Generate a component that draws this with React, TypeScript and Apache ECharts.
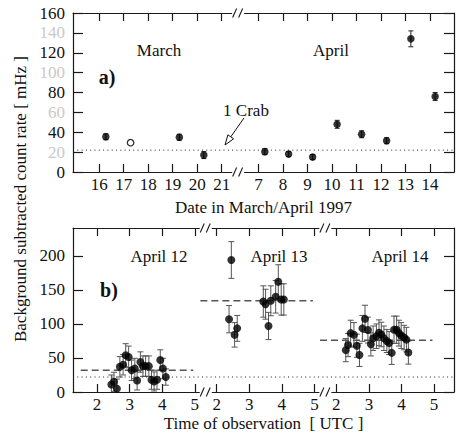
import React, { useEffect, useRef } from 'react';
import * as echarts from 'echarts';

const FONT = 'Liberation Serif';
const INK = '#111111';

// ---------- panel a) daily averages, March / April 1997 ----------
const marchTickDays = [16, 17, 18, 19, 20, 21];
const aprilTickDays = [7, 8, 9, 10, 11, 12, 13, 14];
const marchDay = [16.27, 19.27, 20.27];
const marchRate = [35.5, 35, 17];
const marchErr = [3, 3, 3.5];
const marchOpenDay = [17.28];
const marchOpenRate = [29.5];
const aprilDay = [7.26, 8.23, 9.21, 10.21, 11.21, 12.23, 13.22, 14.21];
const aprilRate = [20.5, 18, 15, 48, 38, 31.5, 134, 76];
const aprilErr = [3, 2.5, 2.5, 4, 3.5, 3, 8, 4];
const crabRate = 22;
const rateTicksA = [0, 20, 40, 60, 80, 100, 120, 140, 160];
const greyRateLabels = [20, 60, 100, 140];

// ---------- panel b) individual observations, April 12/13/14 ----------
const hourTicks = [2, 3, 4, 5];
const rateTicksB = [0, 50, 100, 150, 200];
const apr12Hour = [2.44, 2.52, 2.61, 2.70, 2.80, 2.88, 2.97, 3.06, 3.16, 3.23, 3.33, 3.41, 3.49, 3.59, 3.67, 3.75, 3.84, 3.94, 4.02, 4.11];
const apr12Rate = [11, 15, 5, 37, 40, 54, 51.5, 32, 34.5, 17, 44, 38, 38, 38, 18, 15.5, 18, 47, 34.5, 22];
const apr12Err = [14, 14, 14, 15, 15, 17, 16, 15, 15, 14, 15, 15, 15, 15, 14, 14, 14, 15, 15, 12];
const apr13Hour = [2.38, 2.45, 2.55, 2.63, 3.43, 3.50, 3.59, 3.66, 3.81, 3.89, 3.98, 4.06];
const apr13Rate = [107, 194, 84, 93.5, 133, 129, 97, 134, 140, 162, 136, 136];
const apr13Err = [20, 27, 18, 19, 23, 22, 20, 22, 24, 25, 23, 23];
const apr14Hour = [2.29, 2.36, 2.44, 2.54, 2.63, 2.71, 2.80, 2.88, 2.97, 3.06, 3.13, 3.23, 3.31, 3.38, 3.46, 3.55, 3.62, 3.70, 3.77, 3.85, 3.92, 3.99, 4.08, 4.15, 4.21];
const apr14Rate = [61.5, 69, 86.5, 84, 68, 54.5, 93.5, 107.5, 91, 70, 79, 82, 87, 84.5, 79, 75, 72, 57.5, 91.5, 91.5, 86.5, 83, 80, 77, 58];
const apr14Err = [17, 17, 19, 18, 17, 17, 19, 20, 19, 17, 18, 18, 19, 18, 18, 17, 17, 17, 20, 20, 19, 19, 18, 18, 17];
const dayMeans = [32, 134, 76];
const meanSpanHours = [1.5, 4.95];

// ---------- axis layout (broken axes mapped onto one continuous axis) ----------
const A_MIN = -1.07;
const A_MAX = 14.48;
const posMarch = (d: number) => d - 16;
const posApril = (d: number) => d - 0.5;
const A_BREAK = 5.67;
const B_MIN = 1.263;
const B_MAX = 12.95;
const SEG = 3.67;
const posB = (seg: number, h: number) => h + seg * SEG;
const B_BREAKS = [5.335, 9.005];

const topTickPos = [...marchTickDays.map(posMarch), ...aprilTickDays.map(posApril)];
const topTickLbl = [...marchTickDays, ...aprilTickDays].map(String);
const botTickPos = [0, 1, 2].flatMap((s) => hourTicks.map((h) => posB(s, h)));
const botTickLbl = [0, 1, 2].flatMap(() => hourTicks.map(String));

const lookup = (pos: number[], lbl: string[]) => (v: number) => {
  const i = pos.findIndex((p) => Math.abs(p - Number(v)) < 1e-6);
  return i >= 0 ? lbl[i] : '';
};

const AXIS_COLOR = '#1a1a1a';
const lineStyle = { color: AXIS_COLOR, width: 1.2 };

function xAxisDef(gridIndex: number, position: string, min: number, max: number, ticks: number[], labels: string[] | null, name?: string, nameGap?: number) {
  return {
    type: 'value', gridIndex, position, min, max,
    axisLine: { show: true, onZero: false, lineStyle },
    axisTick: { show: true, inside: true, length: 8, customValues: ticks, lineStyle },
    axisLabel: labels
      ? { show: true, customValues: ticks, formatter: lookup(ticks, labels), margin: 4, fontFamily: FONT, fontSize: 17, color: INK }
      : { show: false },
    splitLine: { show: false },
    name: name || '',
    nameLocation: 'middle',
    nameGap: nameGap || 0,
    nameTextStyle: { fontFamily: FONT, fontSize: 17, color: INK, verticalAlign: 'middle' },
  };
}

function yAxisDef(gridIndex: number, position: string, min: number, max: number, ticks: number[], showLabel: boolean, grey: number[] = []) {
  return {
    type: 'value', gridIndex, position, min, max,
    axisLine: { show: true, onZero: false, lineStyle },
    axisTick: { show: true, inside: true, length: 10, customValues: ticks, lineStyle },
    axisLabel: showLabel
      ? {
          show: true, customValues: ticks, margin: 8, fontFamily: FONT, fontSize: 17,
          color: (v: any) => (grey.includes(Number(v)) ? '#c9c9c9' : INK),
        }
      : { show: false },
    splitLine: { show: false },
  };
}

const errorBarSeries = (xAxisIndex: number, yAxisIndex: number, data: number[][], cap: number, color: string) => ({
  type: 'custom', xAxisIndex, yAxisIndex, data, clip: true, silent: true, z: 2,
  encode: { x: 0, y: 1 },
  renderItem: (params: any, api: any) => {
    const x = api.value(0), y = api.value(1), e = api.value(2);
    const t = api.coord([x, y + e]);
    const b = api.coord([x, y - e]);
    const st = { stroke: color, lineWidth: 1 };
    return {
      type: 'group',
      children: [
        { type: 'line', shape: { x1: t[0], y1: t[1], x2: b[0], y2: b[1] }, style: st },
        { type: 'line', shape: { x1: t[0] - cap, y1: t[1], x2: t[0] + cap, y2: t[1] }, style: st },
        { type: 'line', shape: { x1: b[0] - cap, y1: b[1], x2: b[0] + cap, y2: b[1] }, style: st },
      ],
    };
  },
});

const zip3 = (xs: number[], ys: number[], es: number[]) => xs.map((x, i) => [x, ys[i], es[i]]);

const aFilled = [
  ...zip3(marchDay.map(posMarch), marchRate, marchErr),
  ...zip3(aprilDay.map(posApril), aprilRate, aprilErr),
];
const bDays = [
  zip3(apr12Hour.map((h) => posB(0, h)), apr12Rate, apr12Err),
  zip3(apr13Hour.map((h) => posB(1, h)), apr13Rate, apr13Err),
  zip3(apr14Hour.map((h) => posB(2, h)), apr14Rate, apr14Err),
];

const option: any = {
  animation: false,
  backgroundColor: '#ffffff',
  textStyle: { fontFamily: FONT },
  grid: [
    { left: 73, top: 13, width: 381, height: 159, outerBoundsMode: 'none' },
    { left: 73, top: 228, width: 381, height: 164, outerBoundsMode: 'none' },
  ],
  xAxis: [
    xAxisDef(0, 'bottom', A_MIN, A_MAX, topTickPos, topTickLbl, 'Date in March/April 1997', 35),
    xAxisDef(0, 'top', A_MIN, A_MAX, topTickPos, null),
    xAxisDef(1, 'bottom', B_MIN, B_MAX, botTickPos, botTickLbl, 'Time of observation  [ UTC ]', 31),
    xAxisDef(1, 'top', B_MIN, B_MAX, botTickPos, null),
  ],
  yAxis: [
    yAxisDef(0, 'left', 0, 160, rateTicksA, true, greyRateLabels),
    yAxisDef(0, 'right', 0, 160, rateTicksA, false),
    yAxisDef(1, 'left', 0, 241, rateTicksB, true),
    yAxisDef(1, 'right', 0, 241, rateTicksB, false),
  ],
  series: [
    {
      type: 'line', xAxisIndex: 0, yAxisIndex: 0, silent: true, symbol: 'none',
      data: [[A_MIN, crabRate], [A_MAX, crabRate]],
      lineStyle: { color: '#222', width: 1, type: [1, 3.3] },
    },
    errorBarSeries(0, 0, aFilled, 2.5, '#222'),
    {
      type: 'scatter', xAxisIndex: 0, yAxisIndex: 0, symbol: 'circle', symbolSize: 7.5, z: 3,
      data: aFilled.map((d) => [d[0], d[1]]), itemStyle: { color: '#000' },
    },
    {
      type: 'scatter', xAxisIndex: 0, yAxisIndex: 0, symbol: 'circle', symbolSize: 6.5, z: 3,
      data: marchOpenDay.map((d, i) => [posMarch(d), marchOpenRate[i]]),
      itemStyle: { color: '#fff', borderColor: '#000', borderWidth: 1.3 },
    },
    {
      type: 'line', xAxisIndex: 2, yAxisIndex: 2, silent: true, symbol: 'none',
      data: [[B_MIN, crabRate], [B_MAX, crabRate]],
      lineStyle: { color: '#222', width: 1, type: [1, 3.3] },
    },
    ...dayMeans.map((m, s) => ({
      type: 'line', xAxisIndex: 2, yAxisIndex: 2, silent: true, symbol: 'none',
      data: meanSpanHours.map((h) => [posB(s, h), m]),
      lineStyle: { color: '#555', width: 1.5, type: [7, 4] },
    })),
    ...bDays.map((d) => errorBarSeries(2, 2, d, 3, '#555')),
    ...bDays.map((d) => ({
      type: 'scatter', xAxisIndex: 2, yAxisIndex: 2, symbol: 'circle', symbolSize: 8, z: 3,
      data: d.map((p) => [p[0], p[1]]), itemStyle: { color: '#000' },
    })),
  ],
};

const txt = (text: string, x: number, y: number, size = 17, weight = 'normal') => ({
  type: 'text', x, y, z: 50,
  style: { text, fill: INK, fontFamily: FONT, fontSize: size, fontWeight: weight, align: 'center', verticalAlign: 'middle' },
});

function breakMarks(cx: number, y: number) {
  const st = { stroke: AXIS_COLOR, lineWidth: 1.1 };
  return [
    { type: 'rect', z: 60, shape: { x: cx - 6, y: y - 2.5, width: 12, height: 5 }, style: { fill: '#fff' } },
    { type: 'line', z: 61, shape: { x1: cx - 5.5, y1: y + 4.5, x2: cx - 1.5, y2: y - 4.5 }, style: st },
    { type: 'line', z: 61, shape: { x1: cx + 0.5, y1: y + 4.5, x2: cx + 4.5, y2: y - 4.5 }, style: st },
  ];
}

export default function App() {
  const ref = useRef<HTMLDivElement>(null);
  useEffect(() => {
    const chart = echarts.init(ref.current!, null, { renderer: 'svg' });
    chart.setOption(option);

    const ax = chart.convertToPixel({ xAxisIndex: 0 }, A_BREAK) as number;
    const bx = B_BREAKS.map((v) => chart.convertToPixel({ xAxisIndex: 2 }, v) as number);
    const aTop = chart.convertToPixel({ yAxisIndex: 0 }, 160) as number;
    const aBot = chart.convertToPixel({ yAxisIndex: 0 }, 0) as number;
    const bTop = chart.convertToPixel({ yAxisIndex: 2 }, 241) as number;
    const bBot = chart.convertToPixel({ yAxisIndex: 2 }, 0) as number;

    // "1 Crab" arrow (hollow head)
    const tip = [225, 145];
    const tail = [244, 118];
    const dx = tip[0] - tail[0], dy = tip[1] - tail[1];
    const L = Math.hypot(dx, dy);
    const ux = dx / L, uy = dy / L, nx = -uy, ny = ux;
    const bc = [tip[0] - 10 * ux, tip[1] - 10 * uy];

    chart.setOption({
      graphic: [
        ...breakMarks(ax, aTop), ...breakMarks(ax, aBot),
        ...bx.flatMap((x) => [...breakMarks(x, bTop), ...breakMarks(x, bBot)]),
        txt('March', 159, 50), txt('April', 331, 50),
        txt('a)', 107, 77, 20, 'bold'),
        txt('1 Crab', 246, 110),
        { type: 'line', z: 55, shape: { x1: tail[0], y1: tail[1], x2: bc[0], y2: bc[1] }, style: { stroke: INK, lineWidth: 1 } },
        {
          type: 'polygon', z: 55,
          shape: { points: [tip, [bc[0] + 3.5 * nx, bc[1] + 3.5 * ny], [bc[0] - 3.5 * nx, bc[1] - 3.5 * ny]] },
          style: { fill: '#fff', stroke: INK, lineWidth: 1 },
        },
        txt('April 12', 159, 256), txt('April 13', 279, 256), txt('April 14', 400, 256),
        txt('b)', 109, 290, 20, 'bold'),
        {
          type: 'text', x: 20, y: 199, rotation: Math.PI / 2, z: 50,
          style: { text: 'Background subtracted count rate [ mHz ]', fill: INK, fontFamily: FONT, fontSize: 17, align: 'center', verticalAlign: 'middle' },
        },
      ],
    });
    return () => chart.dispose();
  }, []);
  return <div ref={ref} style={{ position: 'absolute', left: 0, top: 0, width: 460, height: 436, background: '#fff' }} />;
}
